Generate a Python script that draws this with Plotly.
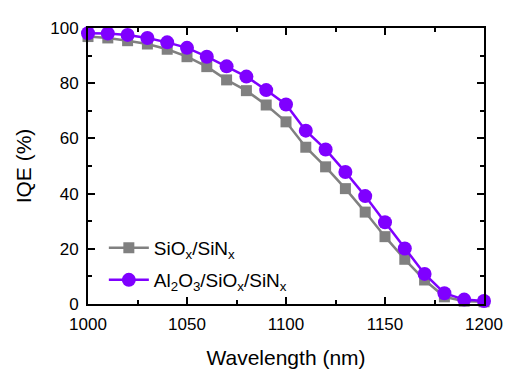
import plotly.graph_objects as go

wavelength = [1000, 1010, 1020, 1030, 1040, 1050, 1060, 1070, 1080, 1090, 1100,
              1110, 1120, 1130, 1140, 1150, 1160, 1170, 1180, 1190, 1200]
iqe_sio_sin = [96.9, 96.4, 95.4, 94.2, 92.3, 89.6, 86.0, 81.2, 77.3, 72.1, 66.0,
               56.8, 49.7, 41.8, 33.3, 24.4, 16.2, 8.7, 2.6, 1.0, 0.8]
iqe_al_sio_sin = [98.1, 98.0, 97.5, 96.4, 94.8, 92.8, 89.6, 86.1, 82.4, 77.5, 72.3,
                  62.8, 56.0, 47.8, 39.1, 29.6, 20.1, 10.9, 3.9, 1.6, 1.1]
name_a = "SiO<sub>x</sub>/SiN<sub>x</sub>"
name_b = "Al<sub>2</sub>O<sub>3</sub>/SiO<sub>x</sub>/SiN<sub>x</sub>"

gray = "#808080"
purple = "#7F00FF"

fig = go.Figure()
fig.add_trace(go.Scatter(
    x=wavelength, y=iqe_sio_sin, name=name_a, mode="lines+markers",
    line=dict(color=gray, width=2.5),
    marker=dict(symbol="square", size=11, color=gray),
    cliponaxis=False, legend="legend"))
fig.add_trace(go.Scatter(
    x=wavelength, y=iqe_al_sio_sin, name=name_b, mode="lines+markers",
    line=dict(color=purple, width=2.5),
    marker=dict(symbol="circle", size=14, color=purple),
    cliponaxis=False, legend="legend2"))

axis_common = dict(
    showline=True, linecolor="black", linewidth=2, mirror="ticks",
    ticks="inside", ticklen=7, tickwidth=2, tickcolor="black",
    showgrid=False, zeroline=False,
    tickfont=dict(family="Arial", size=17, color="black"),
)
fig.update_xaxes(
    range=[1000, 1200], tickvals=[1000, 1050, 1100, 1150, 1200],
    minor=dict(tickvals=[1025, 1075, 1125, 1175], ticks="inside", ticklen=4, tickwidth=2, tickcolor="black"),
    title=dict(text="Wavelength (nm)", font=dict(family="Arial", size=21, color="black"), standoff=17),
    ticklabelstandoff=4,
    **axis_common)
fig.update_yaxes(
    range=[0, 100], tickvals=[0, 20, 40, 60, 80, 100],
    minor=dict(tickvals=[10, 30, 50, 70, 90], ticks="inside", ticklen=4, tickwidth=2, tickcolor="black"),
    title=dict(text="IQE (%)", font=dict(family="Arial", size=21, color="black"), standoff=13),
    ticklabelstandoff=4,
    **axis_common)

legend_common = dict(xanchor="left", yanchor="middle", bgcolor="rgba(0,0,0,0)",
                     font=dict(family="Arial", size=19, color="black"), itemwidth=40)
fig.update_layout(
    width=516, height=381,
    margin=dict(l=88, r=32, t=28, b=77),
    paper_bgcolor="white", plot_bgcolor="white",
    font=dict(family="Arial", color="black"),
    showlegend=True,
    legend=dict(x=0.04, y=0.203, **legend_common),
    legend2=dict(x=0.04, y=0.087, **legend_common),
)
fig.write_html("out.html", config={"displayModeBar": False},
               post_script="document.body.style.margin='0';")
